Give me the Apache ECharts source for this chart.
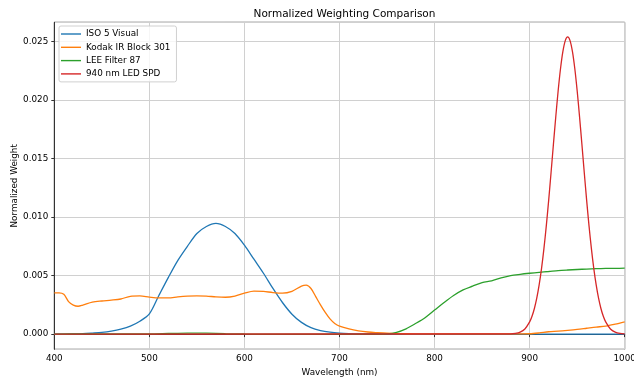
<!DOCTYPE html>
<html>
<head>
<meta charset="utf-8">
<script src="https://cdn.jsdelivr.net/npm/echarts@6/dist/echarts.min.js"></script>
<style>
html,body{margin:0;padding:0;background:#fff;}
#chart{width:634px;height:379px;}
</style>
</head>
<body>
<div id="chart"></div>
<script>
const seriesNames = ['ISO 5 Visual', 'Kodak IR Block 301', 'LEE Filter 87', '940 nm LED SPD'];

const isoWl  = [400, 420, 430, 440, 450, 460, 470, 480, 490, 500, 510, 520, 530, 540, 550, 560, 570, 580, 590, 600, 610, 620, 630, 640, 650, 660, 670, 680, 690, 700, 710, 720, 740, 760, 1000];
const isoVal = [0, 0.00001, 0.00003, 0.00008, 0.00014, 0.00025, 0.00042, 0.00068, 0.0011, 0.00172, 0.0033, 0.00485, 0.0063, 0.0075, 0.0086, 0.0092, 0.00946, 0.0092, 0.0086, 0.0076, 0.0064, 0.0052, 0.0039, 0.0027, 0.0017, 0.001, 0.00055, 0.0003, 0.00016, 0.00008, 0.00004, 0.00002, 0.00001, 0, 0];

const kodakWl  = [400, 405, 410, 415, 420, 425, 430, 440, 450, 460, 470, 480, 490, 500, 510, 520, 530, 540, 550, 560, 570, 580, 590, 600, 610, 620, 630, 640, 650, 660, 665, 670, 675, 680, 685, 690, 695, 700, 710, 720, 730, 740, 750, 760, 780, 800, 880, 900, 910, 920, 930, 940, 950, 960, 970, 980, 990, 1000];
const kodakVal = [0.00353, 0.00353, 0.0034, 0.00278, 0.00248, 0.00238, 0.00248, 0.00273, 0.00283, 0.0029, 0.003, 0.00323, 0.00326, 0.00316, 0.00309, 0.0031, 0.00318, 0.00324, 0.00327, 0.00325, 0.00318, 0.00315, 0.00325, 0.0035, 0.00368, 0.00365, 0.00355, 0.0035, 0.00366, 0.0041, 0.00418, 0.0039, 0.0032, 0.0025, 0.00185, 0.0013, 0.00091, 0.00068, 0.00044, 0.00028, 0.00018, 0.00012, 0.00007, 0.00004, 0.00002, 0.00001, 0.00001, 0.00003, 0.0001, 0.0002, 0.00025, 0.00032, 0.0004, 0.0005, 0.0006, 0.00068, 0.00085, 0.00105];

const leeWl  = [400, 430, 500, 520, 540, 550, 560, 580, 600, 620, 740, 750, 760, 770, 780, 790, 800, 810, 820, 830, 840, 850, 860, 870, 880, 890, 900, 910, 920, 930, 940, 950, 960, 970, 980, 990, 1000];
const leeVal = [0, 0.00001, 0.00002, 0.00005, 0.00008, 0.00009, 0.00008, 0.00004, 0.00001, 0, 0, 0.00002, 0.00015, 0.00045, 0.0009, 0.0014, 0.00205, 0.0027, 0.0033, 0.00378, 0.0041, 0.0044, 0.00455, 0.0048, 0.005, 0.00511, 0.0052, 0.00528, 0.00535, 0.00543, 0.00548, 0.00552, 0.00556, 0.00559, 0.00561, 0.00562, 0.00563];

const ledWl  = [400, 880, 885, 890, 895, 900, 902.5, 905, 907.5, 910, 912.5, 915, 917.5, 920, 922.5, 925, 927.5, 930, 932.5, 935, 937.5, 940, 942.5, 945, 947.5, 950, 952.5, 955, 957.5, 960, 962.5, 965, 967.5, 970, 972.5, 975, 977.5, 980, 985, 990, 995, 1000];
const ledVal = [0, 0.00002, 0.00006, 0.00017, 0.00044, 0.00104, 0.00152, 0.00219, 0.00307, 0.0042, 0.0056, 0.00728, 0.00923, 0.01141, 0.01377, 0.0162, 0.01858, 0.0208, 0.0227, 0.02416, 0.02508, 0.0254, 0.02508, 0.02416, 0.0227, 0.0208, 0.01858, 0.0162, 0.01377, 0.01141, 0.00923, 0.00728, 0.0056, 0.0042, 0.00307, 0.00219, 0.00152, 0.00104, 0.00044, 0.00017, 0.00006, 0.00002];

const xTicks = [400, 500, 600, 700, 800, 900, 1000];
const colors = ['#1f77b4', '#ff7f0e', '#2ca02c', '#d62728'];

function pairs(xs, ys) { return xs.map((x, i) => [x, ys[i]]); }
const allData = [pairs(isoWl, isoVal), pairs(kodakWl, kodakVal), pairs(leeWl, leeVal), pairs(ledWl, ledVal)];

const FONT = 'DejaVu Sans';
const chart = echarts.init(document.getElementById('chart'), null, {renderer: 'canvas'});
chart.setOption({
  animation: false,
  backgroundColor: '#ffffff',
  color: colors,
  title: {
    text: 'Normalized Weighting Comparison',
    left: 339.5, top: 4, textAlign: 'center',
    textStyle: {fontFamily: FONT, fontSize: 10.5, fontWeight: 'normal', color: '#000'}
  },
  legend: {
    orient: 'vertical', left: 59, top: 26,
    padding: [3, 6, 3, 2],
    icon: 'rect',
    itemWidth: 20, itemHeight: 1.4, itemGap: 3.3,
    backgroundColor: 'rgba(255,255,255,0.8)',
    borderColor: '#d0d0d0', borderWidth: 1, borderRadius: 2,
    textStyle: {fontFamily: FONT, fontSize: 8.8, color: '#000', lineHeight: 10},
    data: seriesNames
  },
  grid: {left: 54.3, right: 9.3, top: 22.3, bottom: 29.7, outerBoundsMode: 'none', containLabel: false,
    show: true, borderColor: '#333', borderWidth: 1, backgroundColor: 'transparent'},
  xAxis: {
    type: 'value', min: 400, max: 1000, interval: 100,
    name: 'Wavelength (nm)', nameLocation: 'middle', nameGap: 19, nameMoveOverlap: false,
    nameTextStyle: {fontFamily: FONT, fontSize: 8.8, color: '#000'},
    axisLine: {show: true, lineStyle: {color: '#333', width: 1}},
    axisTick: {show: true, inside: false, length: 3, lineStyle: {color: '#333'}},
    axisLabel: {fontFamily: FONT, fontSize: 8.8, color: '#000', margin: 5,
      formatter: v => xTicks.indexOf(v) >= 0 ? String(v) : ''},
    splitLine: {show: true, lineStyle: {color: '#d0d0d0', width: 1}}
  },
  yAxis: {
    type: 'value', min: -0.0013, max: 0.02665, splitNumber: 5,
    name: 'Normalized Weight', nameLocation: 'middle', nameGap: 35, nameMoveOverlap: false,
    nameTextStyle: {fontFamily: FONT, fontSize: 8.8, color: '#000'},
    axisLine: {show: true, lineStyle: {color: '#333', width: 1}},
    axisTick: {show: true, inside: false, length: 3, lineStyle: {color: '#333'}},
    axisLabel: {fontFamily: FONT, fontSize: 8.8, color: '#000', margin: 6,
      showMinLabel: false, showMaxLabel: false,
      formatter: v => v.toFixed(3)},
    splitLine: {show: true, lineStyle: {color: '#d0d0d0', width: 1}}
  },
  series: seriesNames.map((n, i) => ({
    name: n, type: 'line', data: allData[i], symbol: 'none', showSymbol: false,
    smooth: 0.3,
    lineStyle: {width: 1.3, color: colors[i]}, itemStyle: {color: colors[i]},
    clip: true, z: 2 + i
  }))
});
</script>
</body>
</html>
